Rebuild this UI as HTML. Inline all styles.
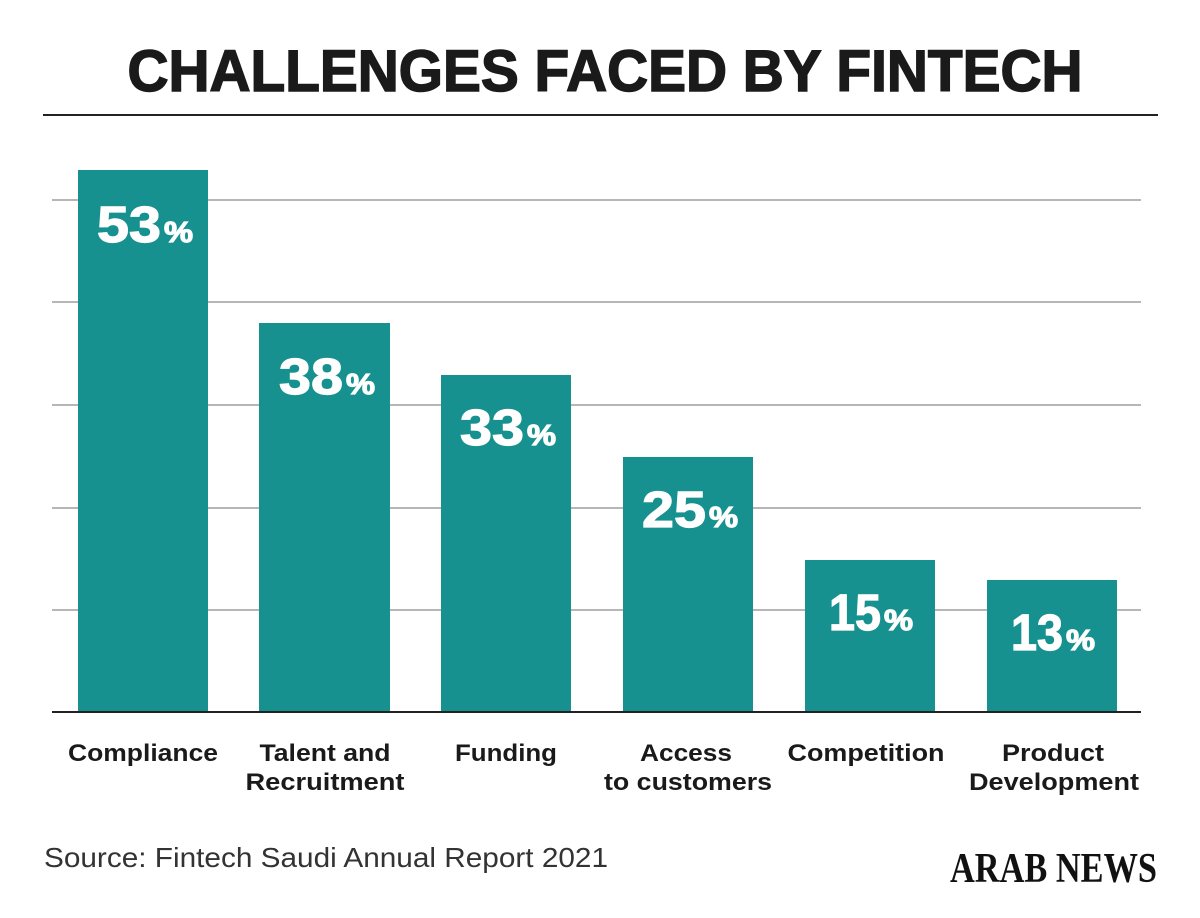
<!DOCTYPE html>
<html><head><meta charset="utf-8"><style>body{margin:0;background:#fff}svg{display:block}</style></head><body>
<svg width="1200" height="918" xmlns="http://www.w3.org/2000/svg">
<text x="605" y="91" text-anchor="middle" font-family="Liberation Sans, sans-serif" font-weight="bold" font-size="58" fill="#1a1a1a" stroke="#1a1a1a" stroke-width="1.5" textLength="955" lengthAdjust="spacingAndGlyphs">CHALLENGES FACED BY FINTECH</text>
<line x1="43" y1="115" x2="1158" y2="115" stroke="#222" stroke-width="2"/>
<g stroke="#8a8a8a" stroke-width="1.3">
<line x1="52" y1="200" x2="1141" y2="200"/><line x1="52" y1="302" x2="1141" y2="302"/><line x1="52" y1="405" x2="1141" y2="405"/><line x1="52" y1="508" x2="1141" y2="508"/><line x1="52" y1="610" x2="1141" y2="610"/>
</g>
<g fill="#17918f">
<rect x="78" y="170" width="130" height="542"/><rect x="259" y="323" width="131" height="389"/><rect x="441" y="375" width="130" height="337"/><rect x="623" y="457" width="130" height="255"/><rect x="805" y="560" width="130" height="152"/><rect x="987" y="580" width="130" height="132"/>
</g>
<line x1="52" y1="712" x2="1141" y2="712" stroke="#222" stroke-width="2"/>
<g font-family="Liberation Sans, sans-serif" font-weight="bold" fill="#fff" stroke="#fff" stroke-width="1.2">
<text x="97" y="242" font-size="51" textLength="64" lengthAdjust="spacingAndGlyphs">53</text><text x="164" y="242" font-size="29" textLength="29" lengthAdjust="spacingAndGlyphs">%</text>
<text x="279" y="394" font-size="51" textLength="64" lengthAdjust="spacingAndGlyphs">38</text><text x="346" y="394" font-size="29" textLength="29" lengthAdjust="spacingAndGlyphs">%</text>
<text x="460" y="445" font-size="51" textLength="64" lengthAdjust="spacingAndGlyphs">33</text><text x="527" y="445" font-size="29" textLength="29" lengthAdjust="spacingAndGlyphs">%</text>
<text x="642" y="527" font-size="51" textLength="64" lengthAdjust="spacingAndGlyphs">25</text><text x="709" y="527" font-size="29" textLength="29" lengthAdjust="spacingAndGlyphs">%</text>
<text x="829" y="630" font-size="51" textLength="52" lengthAdjust="spacingAndGlyphs">15</text><text x="884" y="630" font-size="29" textLength="29" lengthAdjust="spacingAndGlyphs">%</text>
<text x="1011" y="650" font-size="51" textLength="52" lengthAdjust="spacingAndGlyphs">13</text><text x="1066" y="650" font-size="29" textLength="29" lengthAdjust="spacingAndGlyphs">%</text>
</g>
<g font-family="Liberation Sans, sans-serif" font-weight="bold" font-size="24" fill="#1a1a1a" text-anchor="middle" lengthAdjust="spacingAndGlyphs">
<text x="143" y="761" textLength="150" lengthAdjust="spacingAndGlyphs">Compliance</text>
<text x="325" y="761" textLength="131" lengthAdjust="spacingAndGlyphs">Talent and</text><text x="325" y="790" textLength="159" lengthAdjust="spacingAndGlyphs">Recruitment</text>
<text x="506" y="761" textLength="102" lengthAdjust="spacingAndGlyphs">Funding</text>
<text x="686" y="761" textLength="92" lengthAdjust="spacingAndGlyphs">Access</text><text x="688" y="790" textLength="168" lengthAdjust="spacingAndGlyphs">to customers</text>
<text x="866" y="761" textLength="157" lengthAdjust="spacingAndGlyphs">Competition</text>
<text x="1053" y="761" textLength="102" lengthAdjust="spacingAndGlyphs">Product</text><text x="1054" y="790" textLength="170" lengthAdjust="spacingAndGlyphs">Development</text>
</g>
<text x="44" y="867" font-family="Liberation Sans, sans-serif" font-size="28" fill="#333" textLength="564" lengthAdjust="spacingAndGlyphs">Source: Fintech Saudi Annual Report 2021</text>
<text x="950" y="882" font-family="Liberation Serif, serif" font-weight="bold" font-size="42" fill="#111" textLength="207" lengthAdjust="spacingAndGlyphs">ARAB NEWS</text>
</svg>
</body></html>
